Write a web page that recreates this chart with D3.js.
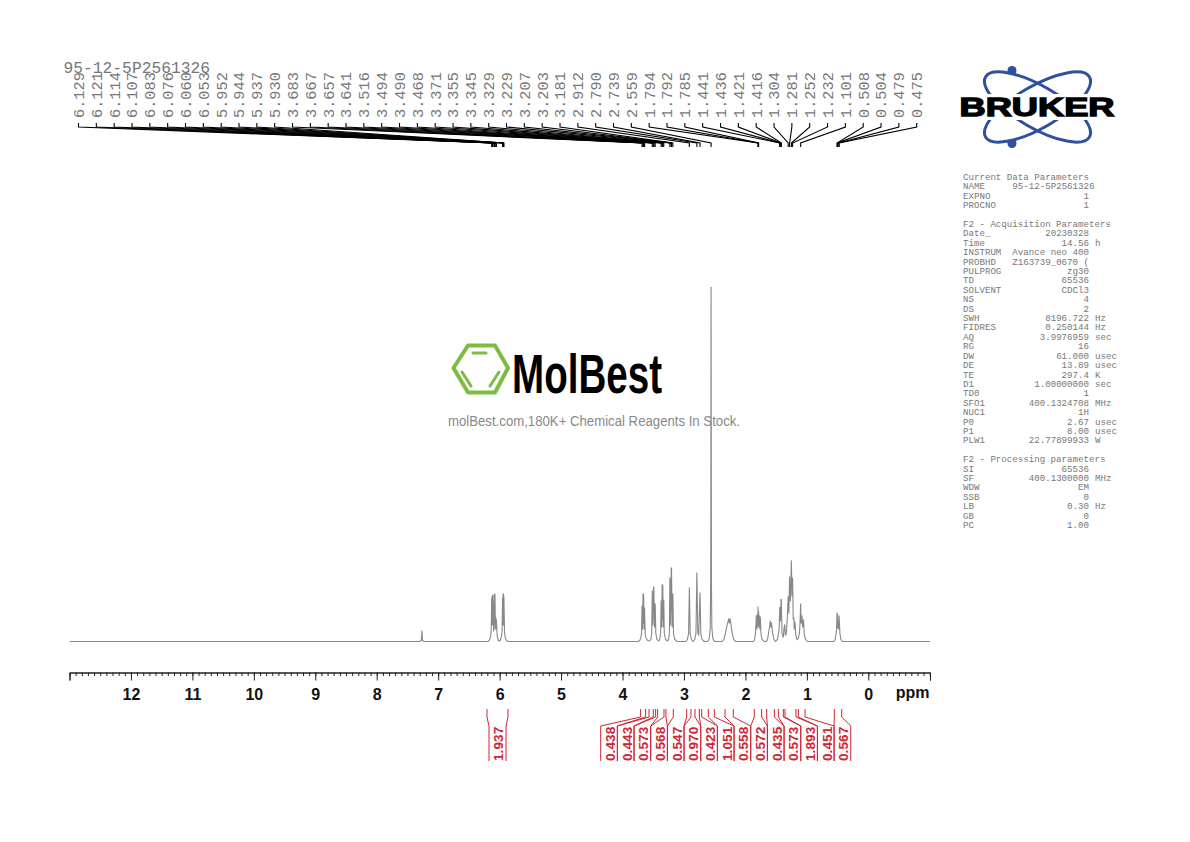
<!DOCTYPE html>
<html>
<head>
<meta charset="utf-8">
<script src="https://d3js.org/d3.v7.min.js"></script>
<style>
  html, body { margin: 0; padding: 0; background: #fff; }
  svg { display: block; }
</style>
</head>
<body>
<svg id="chart" width="1190" height="842"></svg>
<script>
const sampleName = "95-12-5P2561326";

// peak picking list, top of the plot
const peakLabels = [6.129, 6.121, 6.114, 6.107, 6.083, 6.076, 6.06, 6.053, 5.952, 5.944, 5.937, 5.93,
  3.683, 3.667, 3.657, 3.641, 3.516, 3.494, 3.49, 3.468, 3.371, 3.355, 3.345, 3.329,
  3.229, 3.207, 3.203, 3.181, 2.912, 2.79, 2.739, 2.559, 1.794, 1.792, 1.785,
  1.441, 1.436, 1.421, 1.416, 1.304, 1.281, 1.252, 1.232, 1.101, 0.508, 0.504, 0.479, 0.475];

// spectrum traces as [ppm, intensity]
const solventTrace = [[13.0, 0], [7.3, 0], [7.275, 1], [7.265, 11], [7.255, 1], [7.23, 0]];
const vinylTrace = [[6.19, 0], [6.17, 1], [6.15, 4], [6.137, 10], [6.129, 44], [6.125, 16], [6.121, 46], [6.118, 16],
  [6.114, 42], [6.11, 16], [6.107, 47], [6.098, 10], [6.09, 14], [6.083, 47], [6.08, 18], [6.076, 48], [6.068, 12],
  [6.06, 24], [6.057, 12], [6.053, 22], [6.04, 5], [6.02, 1], [6.0, 0.5], [5.99, 1], [5.975, 4], [5.96, 10],
  [5.952, 44], [5.948, 16], [5.944, 48], [5.94, 16], [5.937, 48], [5.934, 16], [5.93, 45], [5.92, 9], [5.905, 3],
  [5.89, 1], [5.87, 0]];
const methyleneTrace = [[3.75, 0], [3.72, 1], [3.7, 4], [3.69, 9], [3.683, 36], [3.675, 12], [3.667, 48], [3.662, 18],
  [3.657, 48], [3.649, 12], [3.641, 34], [3.632, 8], [3.615, 3], [3.59, 1], [3.56, 0.5],
  [3.54, 2], [3.525, 8], [3.516, 51], [3.505, 16], [3.494, 55], [3.492, 30], [3.49, 55], [3.479, 14], [3.468, 38],
  [3.458, 8], [3.44, 2], [3.41, 0.5],
  [3.395, 2], [3.38, 9], [3.371, 41], [3.363, 14], [3.355, 57], [3.35, 22], [3.345, 57], [3.337, 14], [3.329, 42],
  [3.32, 8], [3.3, 2], [3.27, 0.5],
  [3.25, 2], [3.237, 9], [3.229, 64], [3.218, 16], [3.207, 74], [3.205, 30], [3.203, 74], [3.192, 14], [3.181, 48],
  [3.17, 8], [3.15, 2], [3.11, 0]];
const singletTrace = [[2.97, 0], [2.945, 2], [2.925, 8], [2.912, 54], [2.899, 8], [2.88, 2], [2.85, 0],
  [2.825, 2], [2.805, 8], [2.79, 69], [2.775, 9], [2.76, 6], [2.739, 49], [2.725, 7], [2.705, 2], [2.67, 0],
  [2.62, 0], [2.6, 1], [2.585, 4], [2.572, 14], [2.565, 60], [2.559, 354], [2.553, 60], [2.546, 14], [2.533, 4],
  [2.518, 1], [2.5, 0]];
const midTrace = [[2.38, 0], [2.35, 2], [2.325, 8], [2.3, 16], [2.285, 19], [2.27, 23], [2.26, 18], [2.25, 23],
  [2.235, 17], [2.215, 8], [2.19, 2], [2.16, 0],
  [1.87, 0], [1.85, 2], [1.835, 9], [1.822, 26], [1.815, 12], [1.808, 27], [1.802, 14], [1.794, 35], [1.792, 16],
  [1.785, 30], [1.778, 14], [1.77, 26], [1.764, 12], [1.758, 25], [1.748, 8], [1.73, 2], [1.69, 0]];
const aliphaticTrace = [[1.66, 0], [1.64, 2], [1.62, 10], [1.605, 15], [1.595, 21], [1.585, 14], [1.575, 19], [1.56, 9], [1.535, 2],
  [1.51, 0], [1.48, 2], [1.46, 8], [1.45, 14], [1.441, 34], [1.436, 34], [1.43, 20], [1.421, 42], [1.416, 42],
  [1.405, 8], [1.385, 4], [1.37, 14], [1.36, 17], [1.35, 6], [1.335, 8], [1.32, 22], [1.304, 45], [1.292, 28],
  [1.281, 65], [1.268, 40], [1.252, 81], [1.242, 45], [1.232, 64], [1.222, 22], [1.212, 24], [1.205, 12], [1.195, 20],
  [1.18, 6], [1.16, 2], [1.14, 3], [1.12, 9], [1.11, 20], [1.101, 38], [1.092, 18], [1.08, 26], [1.07, 14], [1.055, 22],
  [1.04, 6], [1.02, 2], [0.99, 0]];
const upfieldTrace = [[0.56, 0], [0.54, 2], [0.52, 9], [0.508, 29], [0.506, 14], [0.504, 28], [0.497, 13], [0.489, 16],
  [0.482, 12], [0.479, 26], [0.477, 13], [0.475, 26], [0.462, 8], [0.445, 2], [0.42, 0], [-1.004, 0]];

// integrals, red, below the axis
const integralValues = ["0.438", "0.443", "0.573", "0.568", "0.547", "0.970", "0.423", "1.051", "0.558", "0.572", "0.435", "0.573", "1.893", "0.451", "0.567"];
const integralBounds = [[3.705, 3.624], [3.569, 3.499], [3.461, 3.428], [3.325, 3.293], [3.173, 2.956], [2.886, 2.821], [2.75, 2.712],
  [2.604, 2.506], [2.332, 2.197], [1.855, 1.736], [1.654, 1.529], [1.464, 1.383], [1.356, 1.177], [1.139, 1.03], [0.553, 0.433]];
const vinylIntegral = { value: "1.937", bounds: [6.206, 5.864] };

// acquisition box on the right, [key, value, unit]
const paramBlocks = [
  { title: "Current Data Parameters", rows: [["NAME", sampleName, ""], ["EXPNO", "1", ""], ["PROCNO", "1", ""]] },
  { title: "F2 - Acquisition Parameters", rows: [["Date_", "20230328", ""], ["Time", "14.56", "h"], ["INSTRUM", "Avance neo 400", ""],
    ["PROBHD", "Z163739_0670 (", ""], ["PULPROG", "zg30", ""], ["TD", "65536", ""], ["SOLVENT", "CDCl3", ""], ["NS", "4", ""], ["DS", "2", ""],
    ["SWH", "8196.722", "Hz"], ["FIDRES", "0.250144", "Hz"], ["AQ", "3.9976959", "sec"], ["RG", "16", ""], ["DW", "61.000", "usec"],
    ["DE", "13.89", "usec"], ["TE", "297.4", "K"], ["D1", "1.00000000", "sec"], ["TD0", "1", ""], ["SFO1", "400.1324708", "MHz"],
    ["NUC1", "1H", ""], ["P0", "2.67", "usec"], ["P1", "8.00", "usec"], ["PLW1", "22.77899933", "W"]] },
  { title: "F2 - Processing parameters", rows: [["SI", "65536", ""], ["SF", "400.1300000", "MHz"], ["WDW", "EM", ""], ["SSB", "0", ""],
    ["LB", "0.30", "Hz"], ["GB", "0", ""], ["PC", "1.00", ""]] }
];

const svg = d3.select("#chart");
const mono = "'Liberation Mono', monospace";
const sans = "'Liberation Sans', Arial, sans-serif";

const x = d3.scaleLinear().domain([13.0, -1.004]).range([69.5, 930]);
const y = d3.scaleLinear().domain([0, 354]).range([641.5, 287]);

/// axis ///
const axisG = svg.append("g").attr("transform", "translate(0,672.5)");
const minorAxis = d3.axisBottom(x)
  .tickValues(d3.range(-10, 131).map((d) => d / 10))
  .tickSize(3.5)
  .tickSizeOuter(8)
  .tickFormat("");
const majorAxis = d3.axisBottom(x)
  .tickValues(d3.range(0, 13))
  .tickSize(8)
  .tickSizeOuter(8)
  .tickPadding(8)
  .tickFormat(d3.format("d"));
axisG.append("g").call(minorAxis);
axisG.append("g").call(majorAxis);
axisG.selectAll("path, line").attr("stroke", "#222").attr("stroke-width", 1);
axisG.selectAll("text")
  .attr("fill", "#111")
  .style("font", "bold 16px " + sans);
svg.append("text").attr("x", 929.5).attr("y", 698).attr("text-anchor", "end")
  .attr("fill", "#111").style("font", "bold 16px " + sans).text("ppm");

/// integrals ///
function integralLeader(g, top, boxX) {
  g.append("path")
    .attr("d", `M${top},709V717L${boxX},726V761`)
    .attr("fill", "none").attr("stroke", "#cf2433").attr("stroke-width", 1);
}
const integralG = svg.append("g");
integralValues.forEach((v, i) => {
  const boxL = 600.7 + i * 16.67;
  integralLeader(integralG, x(integralBounds[i][0]), boxL);
  integralLeader(integralG, x(integralBounds[i][1]), boxL + 16.67);
  integralG.append("text")
    .attr("transform", `translate(${boxL + 9.5},761) rotate(-90)`)
    .attr("dy", "0.35em")
    .attr("fill", "#cf2433")
    .style("font", "bold 13.7px " + sans)
    .text(v);
});
integralLeader(integralG, x(vinylIntegral.bounds[0]), 489);
integralLeader(integralG, x(vinylIntegral.bounds[1]), 506);
integralG.append("text")
  .attr("transform", "translate(498.5,761) rotate(-90)")
  .attr("dy", "0.35em")
  .attr("fill", "#cf2433")
  .style("font", "bold 13.7px " + sans)
  .text(vinylIntegral.value);

/// peak labels and leaders ///
svg.append("text").attr("x", 63.5).attr("y", 73).attr("fill", "#777")
  .style("font", "16.3px " + mono).text(sampleName);
const labelX = d3.scaleLinear().domain([0, peakLabels.length - 1]).range([78.5, 916.7]);
const peakG = svg.append("g");
peakG.selectAll("text").data(peakLabels).enter().append("text")
  .attr("transform", (d, i) => `translate(${labelX(i)},118) rotate(-90)`)
  .attr("dy", "0.35em")
  .attr("fill", "#777")
  .style("font", "15.3px " + mono)
  .text((d) => d3.format(".3f")(d));
peakG.selectAll("path").data(peakLabels).enter().append("path")
  .attr("d", (d, i) => `M${labelX(i)},123V127L${x(d)},143V147`)
  .attr("fill", "none")
  .attr("stroke", "#000")
  .attr("stroke-width", 1.1);

/// MolBest watermark, sits under the spectrum ///
const logoG = svg.append("g");
logoG.append("path").attr("d", "M453.5,368L468,345.5H495L508,368L495,392.5H468Z")
  .attr("fill", "none").attr("stroke", "#7dbb42").attr("stroke-width", 4).attr("stroke-linejoin", "round");
logoG.append("path").attr("d", "M473,353H486M462,372L471,386M499,372L490,386")
  .attr("fill", "none").attr("stroke", "#7dbb42").attr("stroke-width", 3).attr("stroke-linecap", "round");
logoG.append("text").attr("x", 512).attr("y", 393).attr("textLength", 150).attr("lengthAdjust", "spacingAndGlyphs")
  .attr("fill", "#000").style("font", "bold 56px " + sans).text("MolBest");
logoG.append("text").attr("x", 448).attr("y", 426).attr("textLength", 292).attr("lengthAdjust", "spacingAndGlyphs")
  .attr("fill", "#888").style("font", "14px " + sans).text("molBest.com,180K+ Chemical Reagents In Stock.");

/// spectrum ///
const spectrum = solventTrace.concat(vinylTrace, methyleneTrace, singletTrace, midTrace, aliphaticTrace, upfieldTrace);
const line = d3.line().x((d) => x(d[0])).y((d) => y(d[1]));
svg.append("path").datum(spectrum)
  .attr("d", line)
  .attr("fill", "none")
  .attr("stroke", "#888")
  .attr("stroke-width", 1.1);

/// Bruker logo ///
const bruker = svg.append("g");
const orbit = bruker.append("g").attr("fill", "none").attr("stroke", "#2f4f9f").attr("stroke-width", 3);
orbit.append("ellipse").attr("rx", 60).attr("ry", 21).attr("transform", "translate(1037.5,107) rotate(30)");
orbit.append("ellipse").attr("rx", 60).attr("ry", 21).attr("transform", "translate(1037.5,107) rotate(-30)");
bruker.append("circle").attr("cx", 1012).attr("cy", 70.5).attr("r", 4.5).attr("fill", "#2f4f9f");
bruker.append("circle").attr("cx", 1012).attr("cy", 143.5).attr("r", 4.5).attr("fill", "#2f4f9f");
bruker.append("rect").attr("x", 955).attr("y", 94).attr("width", 165).attr("height", 26).attr("fill", "#fff");
bruker.append("text").attr("x", 959.5).attr("y", 116).attr("textLength", 155).attr("lengthAdjust", "spacingAndGlyphs")
  .attr("fill", "#000").attr("stroke", "#000").attr("stroke-width", 1.3)
  .style("font", "bold 25px " + sans).text("BRUKER");

/// parameter box ///
const paramG = svg.append("g").style("font", "9.13px " + mono).attr("fill", "#777");
let row = 0;
const rowY = (r) => 180 + r * 9.405;
paramBlocks.forEach((block) => {
  paramG.append("text").attr("x", 963).attr("y", rowY(row)).text(block.title);
  row++;
  block.rows.forEach((r) => {
    paramG.append("text").attr("x", 963).attr("y", rowY(row)).text(r[0]);
    paramG.append("text").attr("x", r[1] === sampleName ? 1094.5 : 1089).attr("y", rowY(row))
      .attr("text-anchor", "end").text(r[1]);
    if (r[2]) paramG.append("text").attr("x", 1095).attr("y", rowY(row)).text(r[2]);
    row++;
  });
  row++;
});
</script>
</body>
</html>
